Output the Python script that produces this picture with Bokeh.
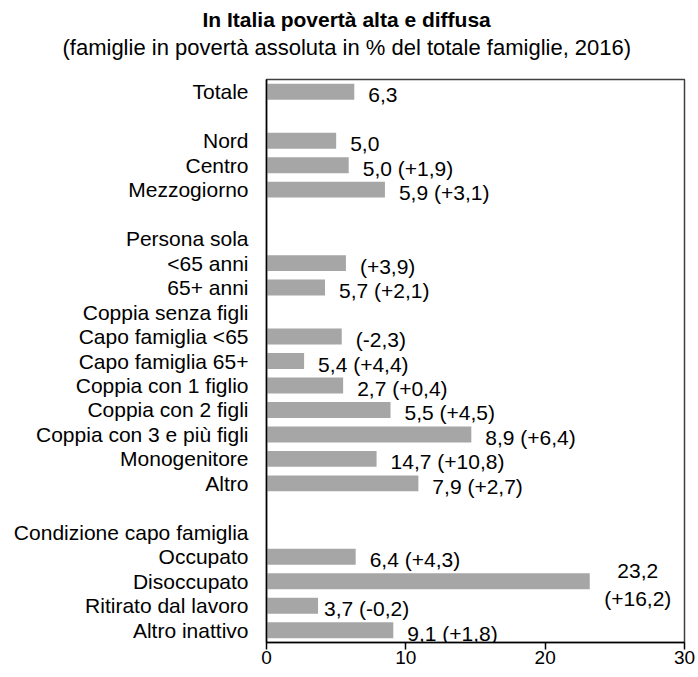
from bokeh.plotting import figure
from bokeh.models import FactorRange, Range1d, Title, FixedTicker, ColumnDataSource
from bokeh.embed import file_html
from bokeh.resources import INLINE
from bokeh.core.properties import value

title_text = "In Italia povertà alta e diffusa"
subtitle_text = "(famiglie in povertà assoluta in % del totale famiglie, 2016)"

rows = ["Totale", " ", "Nord", "Centro", "Mezzogiorno", "  ",
        "Persona sola", "<65 anni", "65+ anni", "Coppia senza figli",
        "Capo famiglia <65", "Capo famiglia 65+", "Coppia con 1 figlio",
        "Coppia con 2 figli", "Coppia con 3 e più figli", "Monogenitore",
        "Altro", "   ", "Condizione capo famiglia", "Occupato",
        "Disoccupato", "Ritirato dal lavoro", "Altro inattivo"]

bar_cats = ["Totale", "Nord", "Centro", "Mezzogiorno", "<65 anni", "65+ anni",
            "Capo famiglia <65", "Capo famiglia 65+", "Coppia con 1 figlio",
            "Coppia con 2 figli", "Coppia con 3 e più figli", "Monogenitore",
            "Altro", "Occupato", "Disoccupato", "Ritirato dal lavoro",
            "Altro inattivo"]
bar_values = [6.3, 5.0, 5.9, 8.5, 5.7, 4.2, 5.4, 2.7, 5.5, 8.9, 14.7, 7.9,
              10.9, 6.4, 23.2, 3.7, 9.1]
bar_labels = ["6,3", "5,0", "5,0 (+1,9)", "5,9 (+3,1)", "(+3,9)", "5,7 (+2,1)",
              "(-2,3)", "5,4 (+4,4)", "2,7 (+0,4)", "5,5 (+4,5)", "8,9 (+6,4)",
              "14,7 (+10,8)", "7,9 (+2,7)", "6,4 (+4,3)", "23,2\n(+16,2)",
              "3,7 (-0,2)", "9,1 (+1,8)"]

x_ticks = [0, 10, 20, 30]

FONT = "Liberation Sans"

p = figure(width=698, height=677, output_backend="svg", toolbar_location=None,
           y_range=FactorRange(factors=rows[::-1], range_padding=0),
           x_range=Range1d(0, 30),
           min_border_left=266, min_border_right=14, min_border_top=79,
           min_border_bottom=35)
p.title = None

# blank spacer panel between the frame and the subtitle
spacer = Title(text=" ", text_font=FONT, text_font_size="8px",
               text_color="white", standoff=9)
sub = Title(text=subtitle_text, align="left", text_font=FONT,
            text_font_size="22px", text_font_style="normal", text_color="black",
            offset=-204, standoff=0)
ttl = Title(text=title_text, align="left", text_font=FONT,
            text_font_size="21px", text_font_style="bold", text_color="black",
            offset=-64, standoff=4)
p.add_layout(spacer, "above")
p.add_layout(sub, "above")
p.add_layout(ttl, "above")

src = ColumnDataSource(dict(y=bar_cats, x=bar_values, lab=bar_labels))
p.hbar(y="y", right="x", left=0, height=0.65, source=src,
       fill_color="#a6a6a6", line_color=None)

normal = [i for i, c in enumerate(bar_cats) if c not in ("Disoccupato", "Ritirato dal lavoro")]
src_n = ColumnDataSource(dict(y=[bar_cats[i] for i in normal],
                              x=[bar_values[i] for i in normal],
                              lab=[bar_labels[i] for i in normal]))
p.text(x="x", y="y", text="lab", source=src_n, x_offset=14, y_offset=3,
       text_font=value(FONT), text_font_size="21px", text_baseline="middle",
       text_align="left", text_color="black")

i_r = bar_cats.index("Ritirato dal lavoro")
src_r = ColumnDataSource(dict(y=[bar_cats[i_r]], x=[bar_values[i_r]], lab=[bar_labels[i_r]]))
p.text(x="x", y="y", text="lab", source=src_r, x_offset=6, y_offset=3,
       text_font=value(FONT), text_font_size="21px", text_baseline="middle",
       text_align="left", text_color="black")

i_d = bar_cats.index("Disoccupato")
src_d = ColumnDataSource(dict(y=[bar_cats[i_d]], x=[bar_values[i_d]], lab=[bar_labels[i_d]]))
p.text(x="x", y="y", text="lab", source=src_d, x_offset=48, y_offset=3,
       text_font=value(FONT), text_font_size="21px", text_baseline="middle",
       text_align="center", text_color="black", text_line_height=1.2)

p.xgrid.grid_line_color = None
p.ygrid.grid_line_color = None
p.outline_line_color = "#404040"
p.outline_line_width = 1.5

p.xaxis.ticker = FixedTicker(ticks=x_ticks)
p.xaxis.axis_line_color = "black"
p.xaxis.axis_line_width = 1.5
p.xaxis.major_tick_line_color = "black"
p.xaxis.major_tick_line_width = 1.5
p.xaxis.major_tick_out = 7
p.xaxis.major_tick_in = 0
p.xaxis.minor_tick_line_color = None
p.xaxis.major_label_standoff = 1
p.xaxis.major_label_text_font = FONT
p.xaxis.major_label_text_font_size = "19px"
p.xaxis.major_label_text_color = "black"

p.yaxis.axis_line_color = "black"
p.yaxis.axis_line_width = 1.5
p.yaxis.major_tick_line_color = None
p.yaxis.major_tick_out = 0
p.yaxis.major_tick_in = 0
p.yaxis.major_label_standoff = 18
p.yaxis.major_label_text_font = FONT
p.yaxis.major_label_text_font_size = "21px"
p.yaxis.major_label_text_color = "black"
p.yaxis.group_text_font_size = "0px"

p.background_fill_color = "white"
p.border_fill_color = "white"

open("out.html", "w").write(file_html(p, INLINE))
